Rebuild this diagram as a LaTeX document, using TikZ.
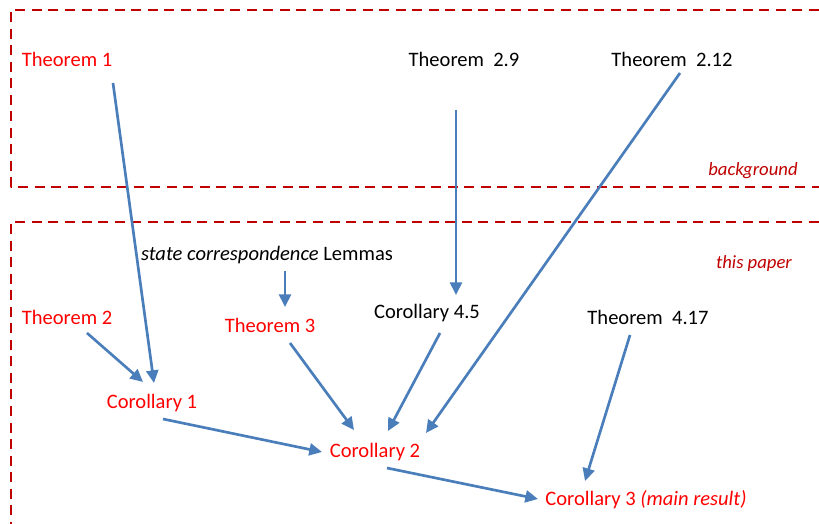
\documentclass[tikz,border=0pt]{standalone}
\usepackage{fontspec}
\setmainfont{Carlito}
\usepackage{tikz}
\usetikzlibrary{arrows.meta}
\definecolor{darkred}{RGB}{192,0,0}
\definecolor{arrowblue}{RGB}{74,126,187}

\begin{document}
\begin{tikzpicture}[line cap=butt,line join=round, x=0.75pt,y=-0.75pt,
	txt/.style={inner sep=0pt,font=\fontsize{15.4}{18}\selectfont},
	newres/.style={txt,text=red},
	oldres/.style={txt,text=black},
	zone/.style={txt,text=darkred,font=\fontsize{14}{17}\selectfont\itshape},
	frame/.style={darkred,line width=2.2pt,dash pattern=on 7.5pt off 4.9pt},
	dep/.style={arrowblue,line width=2pt,-{Triangle[length=9.5pt,width=9pt]}}]
					\useasboundingbox (0,0) rectangle (819,524);
					% dashed regions
					\draw[frame] (819,10) -- (11,10) -- (11,187) -- (819,187);
					\draw[frame] (819,222) -- (11,222) -- (11,524);
					\node[zone] (bg) at (753,171) {background};
					\node[zone] (paper) at (754,264) {this paper};
					% results
					\node[newres] (thmone) at (67,59) {Theorem 1};
					\node[oldres] (thmtwonine) at (464,59) {Theorem\ \ 2.9};
					\node[oldres] (thmtwotwelve) at (672,59) {Theorem\ \ 2.12};
					\node[oldres] (lemmas) at (267,255) {\textit{state correspondence} Lemmas};
					\node[newres] (thmtwo) at (67,317) {Theorem 2};
					\node[newres] (thmthree) at (270,325) {Theorem 3};
					\node[oldres] (corfourfive) at (427,313) {Corollary 4.5};
					\node[oldres] (thmfourseventeen) at (648,317) {Theorem\ \ 4.17};
					\node[newres] (corone) at (152,403) {Corollary 1};
					\node[newres] (cortwo) at (375,452) {Corollary 2};
					\node[newres] (corthree) at (646,500) {Corollary 3 \textit{(main result)}};
					% dependencies
					\draw[dep] ([shift={(46,24)}]thmone.center) -- ([shift={(2,-20)}]corone.center);
					\draw[dep] ([shift={(20,16)}]thmtwo.center) -- ([shift={(-9,-21)}]corone.center);
					\draw[dep] ([shift={(18,16)}]lemmas.center) -- ([shift={(15,-18)}]thmthree.center);
					\draw[dep] ([shift={(20,18)}]thmthree.center) -- ([shift={(-21,-22)}]cortwo.center);
					\draw[dep] ([shift={(13,20)}]corfourfive.center) -- ([shift={(13,-21)}]cortwo.center);
					\draw[dep] ([shift={(-8,51)}]thmtwonine.center) -- ([shift={(29,-18)}]corfourfive.center);
					\draw[dep] ([shift={(8,14)}]thmtwotwelve.center) -- ([shift={(51,-19)}]cortwo.center);
					\draw[dep] ([shift={(-18,18)}]thmfourseventeen.center) -- ([shift={(-61,-19)}]corthree.center);
					\draw[dep] ([shift={(11,16)}]corone.center) -- ([shift={(-53,0)}]cortwo.center);
					\draw[dep] ([shift={(12,16)}]cortwo.center) -- ([shift={(-108,-1)}]corthree.center);
				\end{tikzpicture}
\end{document}
